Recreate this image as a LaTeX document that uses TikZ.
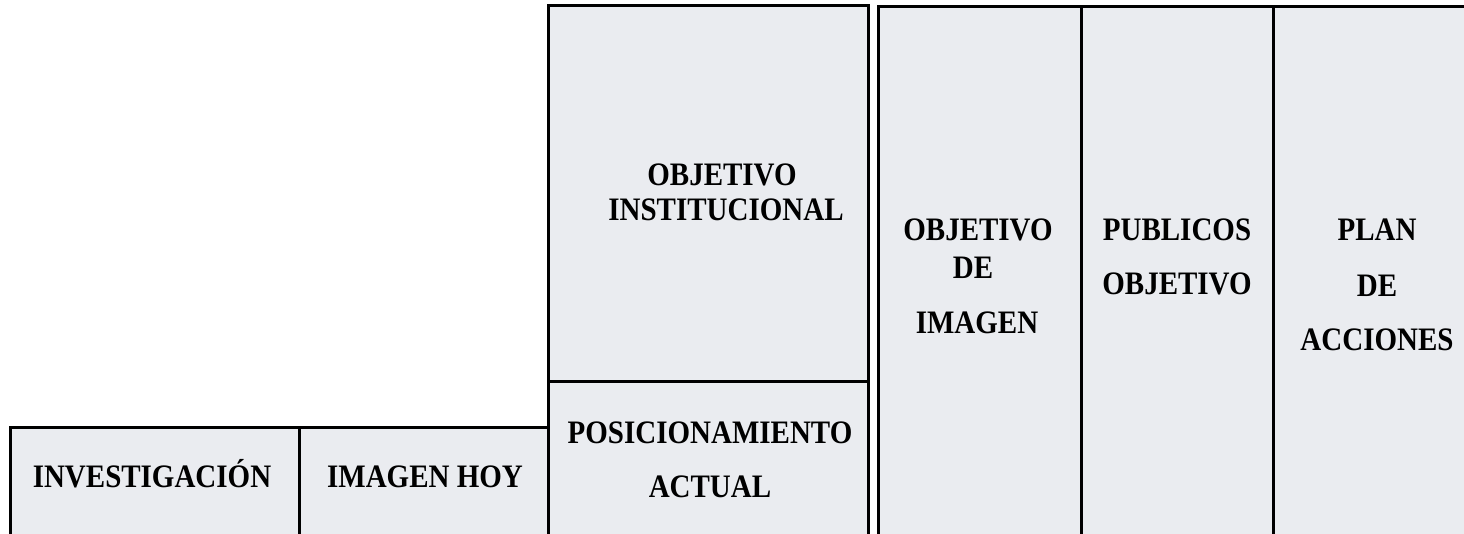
\documentclass[tikz,border=0pt]{standalone}
\usepackage{fontspec}
\setmainfont{Liberation Serif}
\usetikzlibrary{positioning}
\definecolor{boxfill}{RGB}{234,236,240}

\begin{document}
\begin{tikzpicture}[x=1pt, y=-1pt,
    cell/.style={draw=black, line width=3pt, fill=boxfill},
    rule/.style={draw=black, line width=3pt},
    lbl/.style={anchor=base, inner sep=0pt, yscale=1.13,
        font=\fontsize{29}{29}\selectfont\bfseries}]
    % Frame
    \useasboundingbox (0,0) rectangle (1464,533);
    \clip (0,0) rectangle (1464,533);

    % Bottom row
    \draw[cell] (10,427) rectangle (299,535);
    \draw[cell] (299,427) rectangle (548,535);

    % Middle column
    \draw[cell] (548,5) rectangle (868,535);
    \draw[rule] (548,381) -- (868,381);

    % Right block
    \draw[cell] (878,6) rectangle (1495,535);
    \draw[rule] (1081,6) -- (1081,535);
    \draw[rule] (1273,6) -- (1273,535);

    % Labels
    \node[lbl] (inv) at (152,487) {INVESTIGACIÓN};
    \node[lbl] (hoy) at (425,487) {IMAGEN HOY};

    \node[lbl] (oi1) at (722,185) {OBJETIVO};
    \node[lbl] (oi2) at (726,220) {INSTITUCIONAL};
    \node[lbl] (pa1) at (710,443) {POSICIONAMIENTO};
    \node[lbl] (pa2) at (710,497) {ACTUAL};

    \node[lbl] (oim1) at (978,240) {OBJETIVO};
    \node[lbl] (oim2) at (973,278) {DE};
    \node[lbl] (oim3) at (977,333) {IMAGEN};
    \node[lbl] (pub1) at (1177,240) {PUBLICOS};
    \node[lbl] (pub2) at (1177,294) {OBJETIVO};
    \node[lbl] (pla1) at (1377,240) {PLAN};
    \node[lbl] (pla2) at (1377,296) {DE};
    \node[lbl] (pla3) at (1377,350) {ACCIONES};
\end{tikzpicture}
\end{document}
